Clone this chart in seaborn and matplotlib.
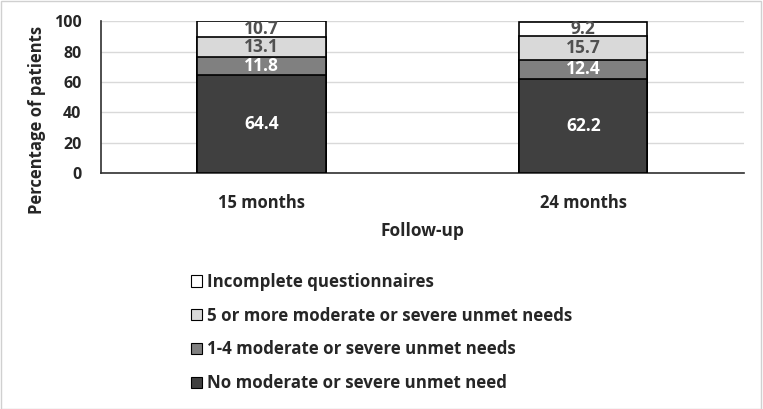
import matplotlib.pyplot as plt
import matplotlib.patches as mpatches
import numpy as np
import pandas as pd
import seaborn as sns

# Data
followup = ['15 months', '24 months']
no_need = [64.4, 62.2]
one_to_four = [11.8, 12.4]
five_plus = [13.1, 15.7]
incomplete = [10.7, 9.2]

series_names = ['No moderate or severe unmet need',
                '1-4 moderate or severe unmet needs',
                '5 or more moderate or severe unmet needs',
                'Incomplete questionnaires']
series_colors = ['#404040', '#808080', '#d9d9d9', '#ffffff']
label_colors = ['white', 'white', '#505050', '#505050']

sns.set_style('white')
plt.rcParams['font.family'] = ['Open Sans', 'DejaVu Sans']
plt.rcParams['font.weight'] = 'bold'

df = pd.DataFrame({'followup': followup,
                   series_names[0]: no_need,
                   series_names[1]: one_to_four,
                   series_names[2]: five_plus,
                   series_names[3]: incomplete})
values = df[series_names].to_numpy()
tops = values.cumsum(axis=1)

fig = plt.figure(figsize=(7.63, 4.09), dpi=100)
ax = fig.add_axes([0.1324, 0.577, 0.8426, 0.3713])

# stacked bars: draw the tallest cumulative layer first, then cover it
for i in range(len(series_names) - 1, -1, -1):
    sns.barplot(x=df['followup'], y=tops[:, i], color=series_colors[i],
                edgecolor='black', linewidth=1.2, width=0.4, saturation=1,
                ax=ax, zorder=3)

for j in range(len(followup)):
    for i in range(len(series_names)):
        mid = tops[j, i] - values[j, i] / 2
        ax.text(j, mid, f'{values[j, i]:.1f}', ha='center', va='center',
                color=label_colors[i], fontsize=12.5, fontweight='bold', zorder=5)

ax.set_ylim(0, 100)
ax.set_xlim(-0.5, 1.5)
ax.set_yticks(np.arange(0, 101, 20))
ax.yaxis.grid(True, color='#d9d9d9', linewidth=1, zorder=0)
ax.set_axisbelow(True)
for side in ['top', 'right']:
    ax.spines[side].set_visible(False)
for side in ['bottom', 'left']:
    ax.spines[side].set_color('#303030')
    ax.spines[side].set_linewidth(1.2)
ax.tick_params(axis='both', length=0, labelsize=11.5)
ax.tick_params(axis='x', pad=15, labelsize=12)
ax.tick_params(axis='y', pad=14)
for lab in ax.get_xticklabels() + ax.get_yticklabels():
    lab.set_fontweight('bold')
ax.set_ylabel('Percentage of patients', fontsize=12, fontweight='bold')
ax.yaxis.set_label_coords(-0.085, 0.35)
ax.set_xlabel('Follow-up', fontsize=12.5, fontweight='bold', labelpad=7)

handles = [mpatches.Patch(facecolor=series_colors[i], edgecolor='black', linewidth=0.8,
                          label=series_names[i])
           for i in range(len(series_names) - 1, -1, -1)]
fig.legend(handles=handles, loc='upper left', bbox_to_anchor=(0.23, 0.37),
           frameon=False, handlelength=0.65, handleheight=0.65,
           handletextpad=0.3, labelspacing=0.93, prop={'weight': 'bold', 'size': 12.2})

fig.patches.append(mpatches.Rectangle((0.001, 0.001), 0.997, 0.997, transform=fig.transFigure,
                                      fill=False, edgecolor='#d0d0d0', linewidth=1))

fig.savefig('out.png', dpi=100)
